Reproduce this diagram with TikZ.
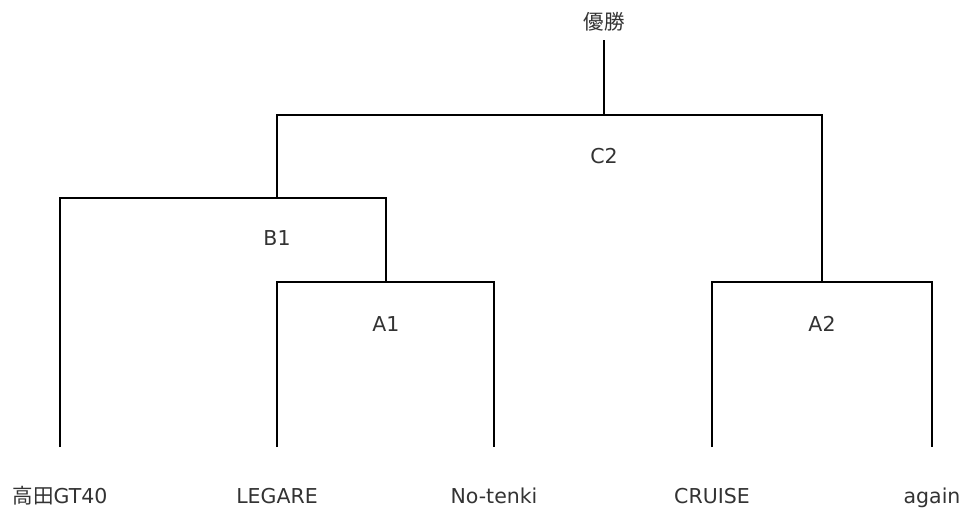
\documentclass[tikz,border=0pt]{standalone}
\usepackage{fontspec}
\setmainfont{DejaVu Sans}
\newfontfamily\cjk{Noto Sans CJK JP}
\usepackage{tikz}

\begin{document}
\begin{tikzpicture}[x=1pt,y=-1pt]
        \tikzset{team/.style = {text=black!80, font=\fontsize{20.5}{24}\selectfont, inner sep=0pt, anchor=base}}
        \tikzset{edge/.style = {-, line width=2pt}}
        \useasboundingbox (0,0) rectangle (965,510);

        \node[team] (t1) at (60,503) {{\cjk 高田}GT40};
        \node[team] (t2) at (277,503) {LEGARE};
        \node[team] (t3) at (494,503) {No-tenki};
        \node[team] (t4) at (712,503) {CRUISE};
        \node[team] (t5) at (932,503) {again};

        \coordinate (l1) at (60,447);
        \coordinate (l2) at (277,447);
        \coordinate (l3) at (494,447);
        \coordinate (l4) at (712,447);
        \coordinate (l5) at (932,447);

        \coordinate (a1) at (386,282);
        \coordinate (a2) at (822,282);
        \coordinate (b1) at (277,198);
        \coordinate (c2) at (604,115);
        \coordinate (w) at (604,40);

        \node[team] (A1) at (386,331) {A1};
        \node[team] (A2) at (822,331) {A2};
        \node[team] (B1) at (277,246) {B1};
        \node[team] (C2) at (604,164) {C2};
        \node[team] (win) at (604,30) {\cjk 優勝};

        \draw[edge] (l2) |- (a1) -| (l3);
        \draw[edge] (l4) |- (a2) -| (l5);

        \draw[edge] (l1) |- (b1) -| (a1);

        \draw[edge] (b1) |- (c2) -| (a2);

        \draw[edge] (c2) to (w);
    \end{tikzpicture}
\end{document}
